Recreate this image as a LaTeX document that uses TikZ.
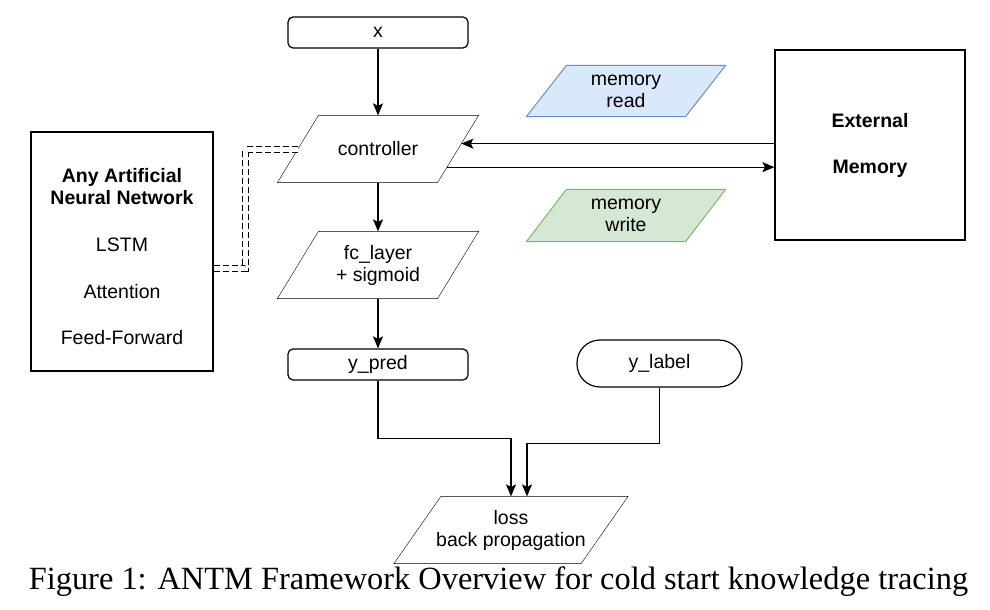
\documentclass[tikz,border=0pt]{standalone}
\usepackage{fontspec}
\setmainfont{Liberation Sans}
\newfontfamily\capfont{Liberation Serif}
\usetikzlibrary{arrows.meta,calc,backgrounds}
\definecolor{readfill}{HTML}{DAE8FC}
\definecolor{readline}{HTML}{6C8EBF}
\definecolor{writefill}{HTML}{D5E8D4}
\definecolor{writeline}{HTML}{82B366}
% slanted box behind a node: #1 node, #2 half slant, #3 style
\newcommand{\parashape}[3]{%
  \draw[#3] ([xshift=#2]#1.north west) -- ([xshift=#2]#1.north east)
    -- ([xshift=-#2]#1.south east) -- ([xshift=-#2]#1.south west) -- cycle;}
\begin{document}
\begin{tikzpicture}[x=1pt, y=-1pt, line width=1.2pt,
  every node/.style={font=\fontsize{19.5}{22}\selectfont, inner sep=0pt},
  roundbox/.style={draw, rounded corners=5pt, minimum width=180pt, minimum height=31pt},
  parabox/.style={align=center},
  arr/.style={-{Stealth[length=12pt,width=10pt,inset=2.5pt]}},
  dbl/.style={double, double distance=5pt, line width=1pt, dash pattern=on 6pt off 3pt}]
  \useasboundingbox (0,0) rectangle (990,610);

  % main column
  \node[roundbox] (x) at (378,32.5) {x};
  \node[parabox, minimum width=159pt, minimum height=66pt] (ctrl) at (378,149) {controller};
  \node[parabox, minimum width=159pt, minimum height=66pt] (fc) at (378,265) {fc\_layer\\+ sigmoid};
  \node[roundbox] (pred) at (378,364.5) {y\_pred};
  \node[draw, rounded corners=23pt, minimum width=165pt, minimum height=47pt] (label) at (659.5,363.5) {y\_label};
  \node[parabox, minimum width=186pt, minimum height=66pt] (loss) at (511,530) {loss\\back propagation};

  % memory side
  \node[parabox, minimum width=158pt, minimum height=50pt] (read) at (626,91) {memory\\read};
  \node[parabox, minimum width=158pt, minimum height=51pt] (write) at (626,215.5) {memory\\write};
  \node[draw, minimum width=190pt, minimum height=190pt, align=center, font=\fontsize{19.5}{22}\selectfont\bfseries] (ext) at (870,145) {External\\[24pt]Memory};

  % network box
  \node[draw, minimum width=182pt, minimum height=239pt] (ann) at (122,251.5) {};
  \node[align=center] (annlist) at (122,256.5) {\textbf{Any Artificial}\\\textbf{Neural Network}\\[25pt]LSTM\\[25pt]Attention\\[24pt]Feed-Forward};

  % slanted outlines
  \begin{scope}[on background layer]
    \fill[white] (0,0) rectangle (990,610);
    \parashape{ctrl}{20.5pt}{fill=white}
    \parashape{fc}{20.5pt}{fill=white}
    \parashape{loss}{23.5pt}{fill=white}
    \parashape{read}{20pt}{draw=readline, fill=readfill, line width=1pt}
    \parashape{write}{20pt}{draw=writeline, fill=writefill, line width=1pt}
  \end{scope}

  % arrows
  \draw[arr] (x) -- (ctrl);
  \draw[arr] (ctrl) -- (fc);
  \draw[arr] (fc) -- (pred);
  \coordinate (rd) at ($([xshift=20.5pt]ctrl.north east)!0.42!([xshift=-20.5pt]ctrl.south east)$);
  \coordinate (wr) at ($([xshift=20.5pt]ctrl.north east)!0.77!([xshift=-20.5pt]ctrl.south east)$);
  \draw[arr] (ext.west |- rd) -- (rd);
  \draw[arr] (wr) -- (ext.west |- wr);
  \draw[arr] (pred.south) -- ++(0,58) -| (loss.north);
  \draw[arr] (label.south) -- ++(0,56) -| ([xshift=16pt]loss.north);

  % link to network
  \draw[dbl] ([yshift=-17pt]ann.east) -- ++(32,0) |- (ctrl.west);

  \node[font=\capfont\fontsize{32.4}{36}\selectfont, anchor=base] (cap) at (498.5,589)
    {Figure 1: ANTM Framework Overview for cold start knowledge tracing};
\end{tikzpicture}
\end{document}
